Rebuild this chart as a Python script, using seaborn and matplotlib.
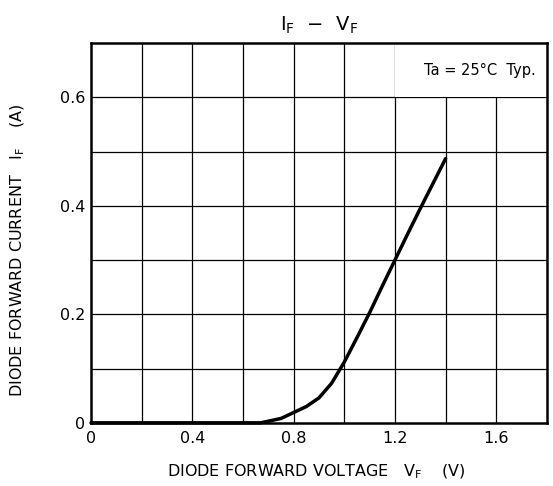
import numpy as np
import pandas as pd
import matplotlib.pyplot as plt
import seaborn as sns
from matplotlib.patches import Rectangle

# values
vf = [0.0, 0.3, 0.6, 0.67, 0.7, 0.75, 0.8, 0.85, 0.9, 0.95, 1.0, 1.05,
      1.1, 1.15, 1.2, 1.25, 1.3, 1.35, 1.4]
i_f = [0.0, 0.0, 0.0, 0.0, 0.003, 0.008, 0.019, 0.03, 0.046, 0.073, 0.112,
       0.157, 0.203, 0.252, 0.30, 0.348, 0.395, 0.441, 0.487]

x_ticks = [0, 0.4, 0.8, 1.2, 1.6]
x_tick_labels = ["0", "0.4", "0.8", "1.2", "1.6"]
y_ticks = [0, 0.2, 0.4, 0.6]
y_tick_labels = ["0", "0.2", "0.4", "0.6"]

sns.set_style("white")
plt.rcParams['font.family'] = ['DejaVu Sans']
plt.rcParams['mathtext.fontset'] = 'dejavusans'
for k in ['text.color', 'axes.labelcolor', 'xtick.color', 'ytick.color']:
    plt.rcParams[k] = 'black'

fig = plt.figure(figsize=(5.53, 4.86), dpi=100)
ax = fig.add_axes([0.1646, 0.130, 0.8244, 0.7815])

df = pd.DataFrame({"VF": vf, "IF": i_f})
sns.lineplot(data=df, x="VF", y="IF", ax=ax, color="black", lw=2.5,
             zorder=5, clip_on=False, solid_joinstyle="round")

ax.set_xlim(0, 1.8)
ax.set_ylim(0, 0.7)

# grid
for gx in np.arange(0.2, 1.8, 0.2):
    ax.axvline(gx, color="black", lw=0.9, zorder=1)
for gy in np.arange(0.1, 0.7, 0.1):
    ax.axhline(gy, color="black", lw=0.9, zorder=1)

# white box behind the annotation (covers grid in the top-right cell)
ax.add_patch(Rectangle((1.2, 0.6), 0.6, 0.1, facecolor="white",
                       edgecolor="none", zorder=2))
ax.text(1.755, 0.65, "Ta = 25°C  Typ.", ha="right", va="center",
        fontsize=10.5, zorder=3)

for s in ax.spines.values():
    s.set_linewidth(1.8)
    s.set_color("black")

ax.set_xticks(x_ticks)
ax.set_xticklabels(x_tick_labels, fontsize=11.5)
ax.set_yticks(y_ticks)
ax.set_yticklabels(y_tick_labels, fontsize=11.5)
ax.tick_params(axis="x", length=0, pad=6)
ax.tick_params(axis="y", length=0, pad=4)

ax.set_xlabel(r"DIODE FORWARD VOLTAGE   V$_\mathrm{F}$    (V)",
              fontsize=11.5)
ax.xaxis.set_label_coords(0.495, -0.106)
ax.set_ylabel(r"DIODE FORWARD CURRENT   I$_\mathrm{F}$    (A)",
              fontsize=11.5)
ax.yaxis.set_label_coords(-0.14, 0.455)
ax.set_title(r"I$_\mathrm{F}$  −  V$_\mathrm{F}$", fontsize=14, pad=9)

fig.savefig("out.png", dpi=100)
